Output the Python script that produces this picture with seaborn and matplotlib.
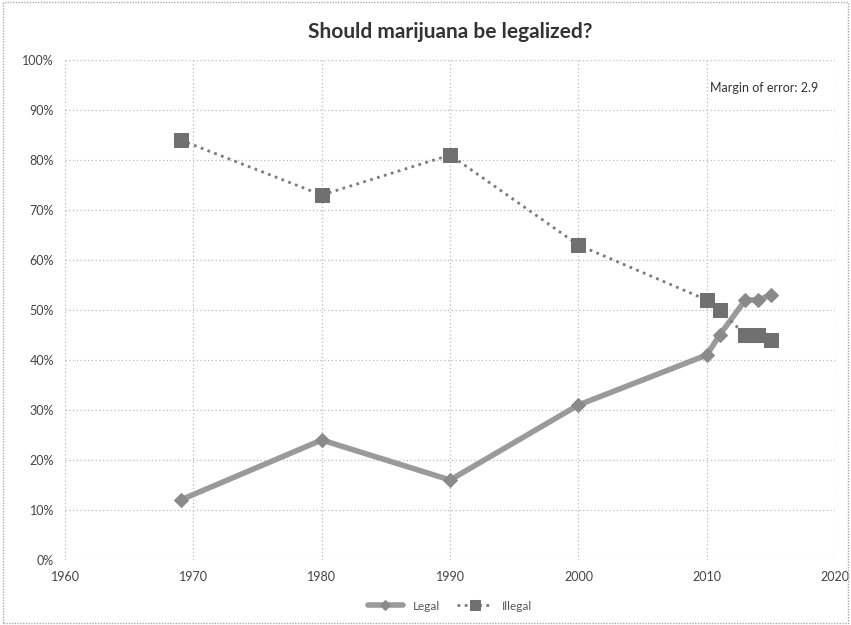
import pandas as pd
import matplotlib.pyplot as plt
import seaborn as sns
from matplotlib.ticker import PercentFormatter
from matplotlib.patches import Rectangle

years = [1969, 1980, 1990, 2000, 2010, 2011, 2013, 2014, 2015]
legal = [12, 24, 16, 31, 41, 45, 52, 52, 53]
illegal = [84, 73, 81, 63, 52, 50, 45, 45, 44]
x_ticks = [1960, 1970, 1980, 1990, 2000, 2010, 2020]
y_ticks = list(range(0, 101, 10))

df = pd.DataFrame({'Year': years, 'Legal': legal, 'Illegal': illegal})

sns.set_style('white')
plt.rcParams['font.family'] = ['Lato', 'DejaVu Sans']

fig = plt.figure(figsize=(8.51, 6.25), dpi=100)
ax = fig.add_axes([0.0764, 0.104, 0.905, 0.8])

sns.lineplot(data=df, x='Year', y='Legal', ax=ax, color='#9a9a9a', linewidth=4,
             marker='D', markersize=7, markerfacecolor='#8a8a8a', markeredgecolor='#8a8a8a',
             label='Legal', zorder=3)
sns.lineplot(data=df, x='Year', y='Illegal', ax=ax, color='#7c7c7c', linewidth=2,
             linestyle=(0, (1, 1.6)), marker='s', markersize=10,
             markerfacecolor='#707070', markeredgecolor='#707070', label='Illegal', zorder=4)

ax.set_xlim(1960, 2020)
ax.set_ylim(0, 100)
ax.set_xticks(x_ticks)
ax.set_yticks(y_ticks)
ax.yaxis.set_major_formatter(PercentFormatter(decimals=0))
ax.tick_params(axis='both', length=0, labelsize=9, colors='#444444', pad=8)
ax.set_xlabel('')
ax.set_ylabel('')
ax.grid(True, color='#bbbbbb', linestyle=(0, (1, 2)), linewidth=0.9)
for s in ax.spines.values():
    s.set_visible(False)

ax.set_title('Should marijuana be legalized?', fontsize=15, fontweight='bold',
             color='#333333', pad=16)
ax.text(0.978, 0.945, 'Margin of error: 2.9', transform=ax.transAxes,
        ha='right', va='center', fontsize=9, color='#333333')

ax.legend(loc='upper center', bbox_to_anchor=(0.5, -0.06), ncol=2, frameon=False,
          fontsize=8.5, handlelength=3, columnspacing=1.5, labelcolor='#555555',
          markerscale=0.7)

fig.patches.append(Rectangle((0.003, 0.003), 0.994, 0.994, transform=fig.transFigure,
                             fill=False, edgecolor='#aaaaaa', linestyle=(0, (1, 1)),
                             linewidth=1))

fig.savefig('out.png', dpi=100)
